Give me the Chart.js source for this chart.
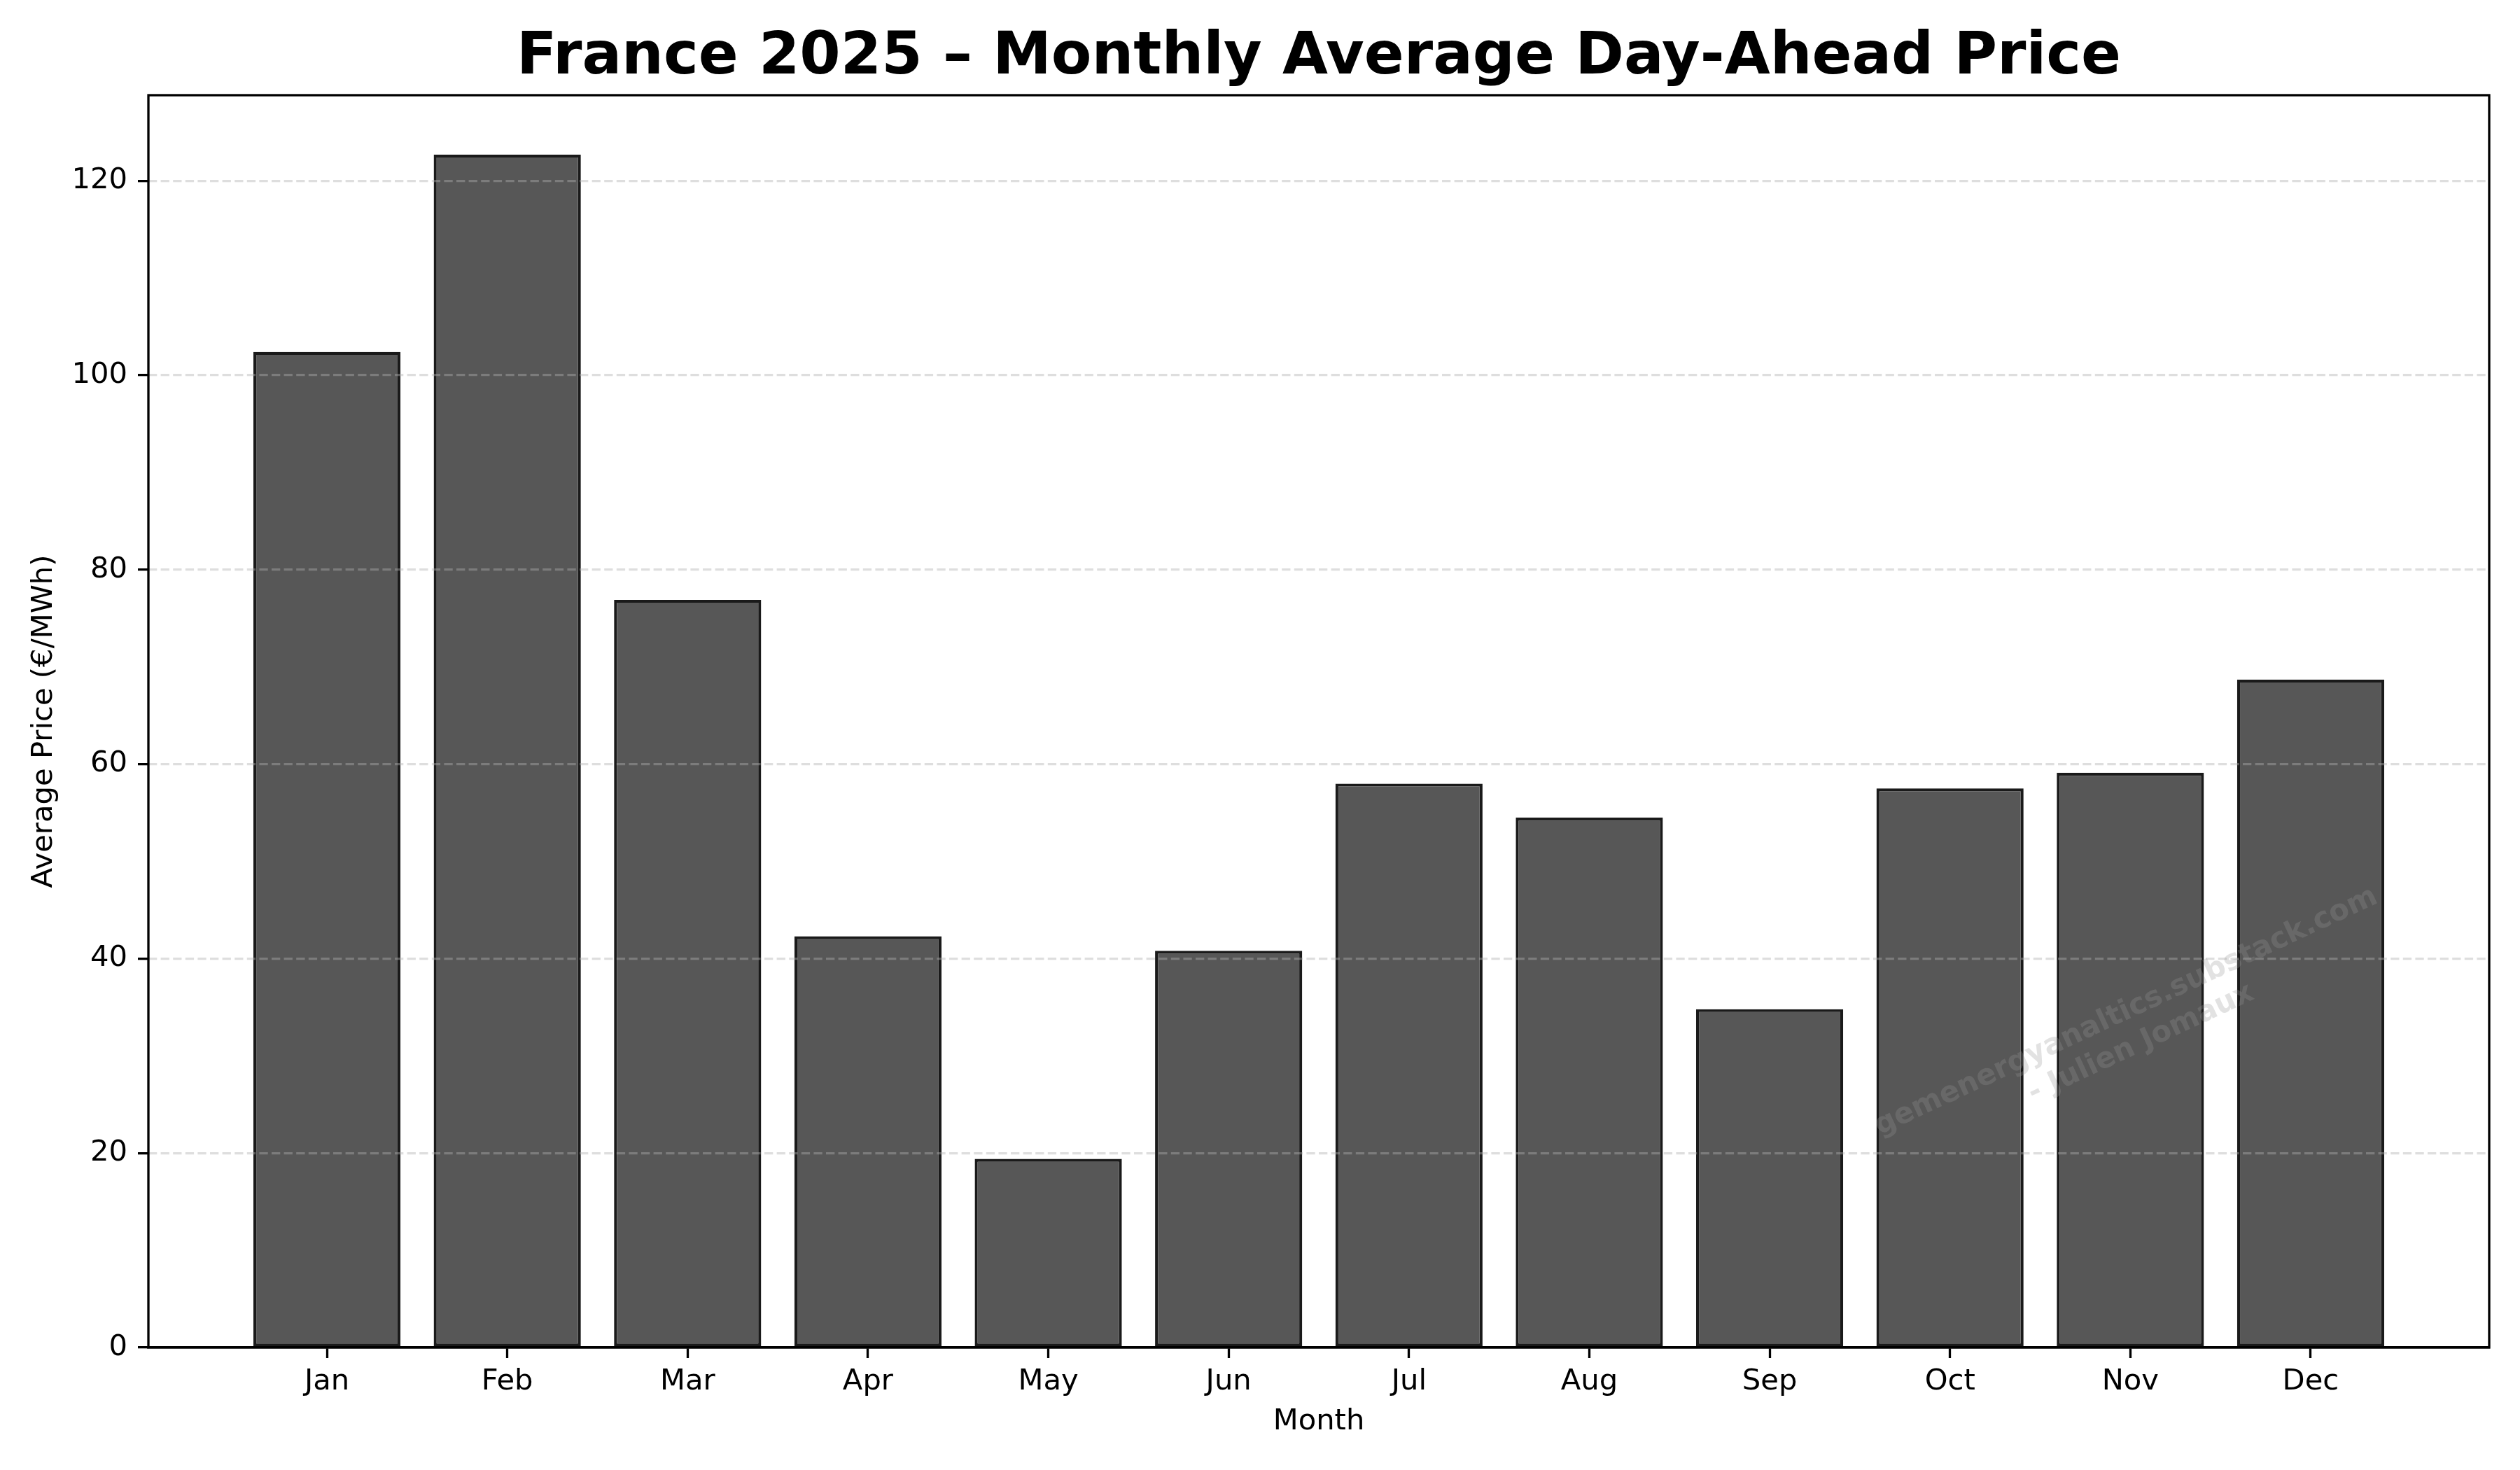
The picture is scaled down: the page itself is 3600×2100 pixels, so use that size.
<!DOCTYPE html>
<html lang="en">
<head>
    <meta charset="UTF-8">
    <title>France 2025 - Monthly Average Day-Ahead Price</title>
    <script src="https://cdn.jsdelivr.net/npm/chart.js"></script>
    <style>
        body { margin: 0; background: #fff; }
        canvas { display: block; }
    </style>
</head>
<body>
    <canvas id="priceChart" width="3600" height="2100" style="width:3600px;height:2100px"></canvas>

    <script>
        // Data
        const months = ['Jan', 'Feb', 'Mar', 'Apr', 'May', 'Jun', 'Jul', 'Aug', 'Sep', 'Oct', 'Nov', 'Dec'];
        const avgPrice = [102.4, 122.7, 76.9, 42.3, 19.4, 40.8, 58.0, 54.5, 34.8, 57.5, 59.1, 68.7];
        const yTicks = [0, 20, 40, 60, 80, 100, 120];
        const monthIndex = months.map((m, i) => i);

        Chart.defaults.font.family = "'DejaVu Sans', sans-serif";
        Chart.defaults.color = '#000';

        // rotated watermark + full box around plot (matplotlib style spines)
        const extras = {
            id: 'extras',
            afterDraw(chart) {
                const ctx = chart.ctx;
                const a = chart.chartArea;
                ctx.save();
                ctx.translate(3048, 1468);
                ctx.rotate(-25 * Math.PI / 180);
                ctx.font = "bold 41.7px 'DejaVu Sans'";
                ctx.fillStyle = 'rgba(150,150,150,0.28)';
                ctx.textAlign = 'center';
                ctx.textBaseline = 'middle';
                ctx.fillText('gemenergyanaltics.substack.com', 0, -25);
                ctx.fillText('- Julien Jomaux', 0, 25);
                ctx.restore();

                ctx.save();
                ctx.strokeStyle = '#000';
                ctx.lineWidth = 3.3;
                ctx.strokeRect(a.left, a.top, a.right - a.left, a.bottom - a.top);
                ctx.restore();
            }
        };

        const ctx = document.getElementById('priceChart').getContext('2d');
        new Chart(ctx, {
            type: 'bar',
            data: {
                datasets: [{
                    data: monthIndex.map(i => ({ x: i, y: avgPrice[i] })),
                    backgroundColor: '#575757',
                    borderColor: '#1a1a1a',
                    borderWidth: 4.2,
                    borderSkipped: false,
                    categoryPercentage: 1,
                    barPercentage: 0.816
                }]
            },
            options: {
                responsive: false,
                animation: false,
                devicePixelRatio: 1,
                layout: { padding: { left: 0, right: 44, top: 0, bottom: 0 } },
                plugins: {
                    legend: { display: false },
                    tooltip: { enabled: false },
                    title: {
                        display: true,
                        fullSize: false,
                        text: 'France 2025 \u2013 Monthly Average Day-Ahead Price',
                        font: { size: 84, weight: 'bold', lineHeight: 1.0 },
                        padding: { top: 41, bottom: 11 },
                        color: '#000'
                    }
                },
                scales: {
                    x: {
                        type: 'linear',
                        offset: false,
                        min: -0.99,
                        max: 11.99,
                        afterBuildTicks: s => { s.ticks = monthIndex.map(v => ({ value: v })); },
                        afterFit: s => { s.height = 175; },
                        ticks: {
                            autoSkip: false,
                            maxRotation: 0,
                            padding: 9,
                            font: { size: 41.7 },
                            callback: v => months[v]
                        },
                        grid: {
                            offset: false,
                            drawOnChartArea: false,
                            drawTicks: true,
                            tickLength: 15,
                            tickWidth: 3.3,
                            tickColor: '#000'
                        },
                        border: { display: true, color: '#000', width: 3.3 },
                        title: {
                            display: true,
                            text: 'Month',
                            font: { size: 41.7 },
                            padding: { top: 0, bottom: 44 }
                        }
                    },
                    y: {
                        min: 0,
                        max: 128.8,
                        afterBuildTicks: s => { s.ticks = yTicks.map(v => ({ value: v })); },
                        afterFit: s => { s.width = 212; },
                        ticks: {
                            padding: 15,
                            font: { size: 41.7 }
                        },
                        grid: {
                            z: 1,
                            color: ctx => ctx.tick && ctx.tick.value === 0 ? 'rgba(0,0,0,0)' : 'rgba(176,176,176,0.42)',
                            lineWidth: 3.3,
                            drawTicks: true,
                            tickLength: 15,
                            tickWidth: 3.3,
                            tickColor: '#000',
                            tickBorderDash: []
                        },
                        // spine itself comes from the extras plugin; dash here styles the grid lines
                        border: { display: false, z: 1, dash: [12.3, 5.3] },
                        title: {
                            display: true,
                            text: 'Average Price (\u20ac/MWh)',
                            font: { size: 41.7 },
                            padding: { top: 38, bottom: 0 }
                        }
                    }
                }
            },
            plugins: [extras]
        });
    </script>
</body>
</html>
